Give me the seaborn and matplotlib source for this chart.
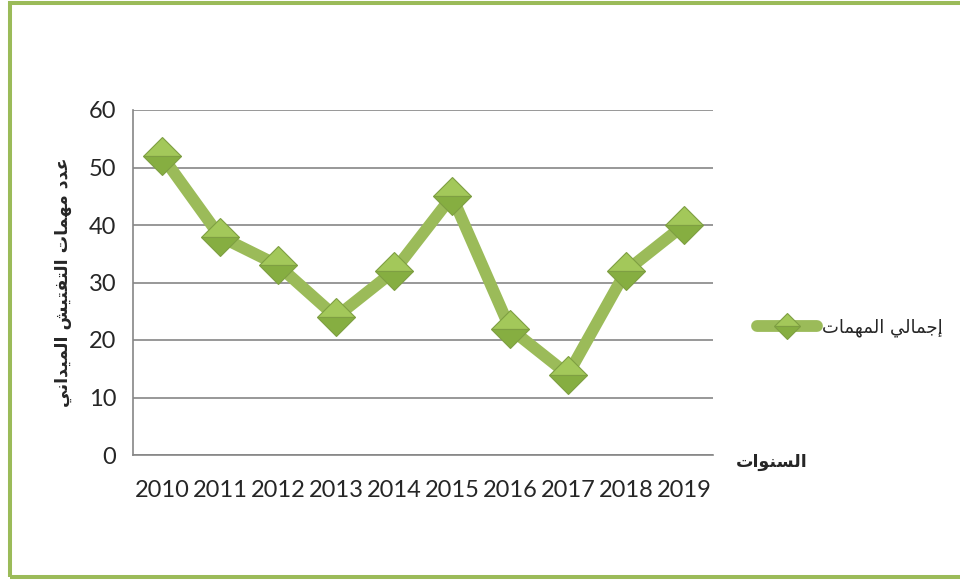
import matplotlib
matplotlib.use("Agg")
import matplotlib.pyplot as plt
from matplotlib.patches import Rectangle
import seaborn as sns
import pandas as pd
import numpy as np

years = ["2010", "2011", "2012", "2013", "2014", "2015", "2016", "2017", "2018", "2019"]
missions = [52, 38, 33, 24, 32, 45, 22, 14, 32, 40]
y_ticks = [0, 10, 20, 30, 40, 50, 60]

series_name = "إجمالي المهمات"
y_title = "عدد مهمات التفتيش الميداني"
x_title = "السنوات"

# minimal Arabic shaping (presentation forms + visual order) for matplotlib
DUAL = {'ت': 0xFE95, 'ج': 0xFE9D, 'س': 0xFEB1, 'ش': 0xFEB5, 'ع': 0xFEC9, 'ف': 0xFED1,
        'ل': 0xFEDD, 'م': 0xFEE1, 'ن': 0xFEE5, 'ه': 0xFEE9, 'ي': 0xFEF1}
RIGHT = {'ا': 0xFE8D, 'إ': 0xFE87, 'د': 0xFEA9, 'و': 0xFEED}


def shape(text):
    out = []
    for i, c in enumerate(text):
        if c in DUAL or c in RIGHT:
            prev = text[i - 1] if i > 0 else ''
            nxt = text[i + 1] if i + 1 < len(text) else ''
            jp = prev in DUAL
            jn = c in DUAL and (nxt in DUAL or nxt in RIGHT)
            base = DUAL.get(c, RIGHT.get(c))
            off = 3 if (jp and jn) else 1 if jp else 2 if jn else 0
            out.append(chr(base + off))
        else:
            out.append(c)
    return ''.join(reversed(out))


sns.set_theme(style="white")
plt.rcParams['font.family'] = ['Lato', 'DejaVu Sans']

GREEN = "#9BBB59"
GRID = "#868686"

fig = plt.figure(figsize=(9.6, 5.8), dpi=100)
ax = fig.add_axes([133 / 960, 1 - 455 / 580, 580 / 960, 345 / 580])

df = pd.DataFrame({"pos": np.arange(len(years)), "value": missions})
sns.lineplot(data=df, x="pos", y="value", ax=ax, color=GREEN, linewidth=8.5,
             marker="D", markersize=19.5, markerfacecolor="#A3C85A",
             markerfacecoloralt="#86AE41", fillstyle="top",
             markeredgecolor="#7E9F42", markeredgewidth=0.8,
             solid_joinstyle="miter", label=shape(series_name), zorder=5)

ax.set_xlim(-0.5, len(years) - 0.5)
ax.set_ylim(0, 60)
ax.set_yticks(y_ticks)
ax.set_yticklabels([str(v) for v in y_ticks], fontsize=17)
ax.yaxis.grid(True, color=GRID, linewidth=1.2)
ax.xaxis.grid(False)
ax.set_axisbelow(True)

ax.set_xticks(np.arange(-0.5, len(years)), labels=[""] * (len(years) + 1))
ax.set_xticks(np.arange(len(years)), labels=years, minor=True)
ax.tick_params(axis="x", which="major", length=6, width=1.2, color=GRID, direction="out")
ax.tick_params(axis="x", which="minor", length=0, labelsize=17, pad=18)
ax.tick_params(axis="y", length=6, width=1.2, color=GRID, direction="out", pad=6)

for s in ["top", "right"]:
    ax.spines[s].set_visible(False)
for s in ["left", "bottom"]:
    ax.spines[s].set_color(GRID)
    ax.spines[s].set_linewidth(1.2)

ax.set_xlabel("")
ax.set_ylabel(shape(y_title), fontsize=12.5, fontweight="bold", labelpad=12,
              family=['DejaVu Sans'])

fig.text(772 / 960, 1 - 462 / 580, shape(x_title), fontsize=12.5, fontweight="bold",
         ha="center", va="center", family=['DejaVu Sans'])

leg = ax.legend(loc="center left", bbox_to_anchor=(748 / 960, 1 - 328 / 580),
                bbox_transform=fig.transFigure, frameon=False,
                handlelength=3.3, handletextpad=0.3, borderpad=0, markerscale=0.7,
                prop={'family': ['DejaVu Sans'], 'size': 13})

fig.add_artist(Rectangle((10 / 960, 3 / 580), 952 / 960, 574.5 / 580,
                         transform=fig.transFigure, fill=False,
                         edgecolor=GREEN, linewidth=2.9))

fig.savefig("out.png", dpi=100)
